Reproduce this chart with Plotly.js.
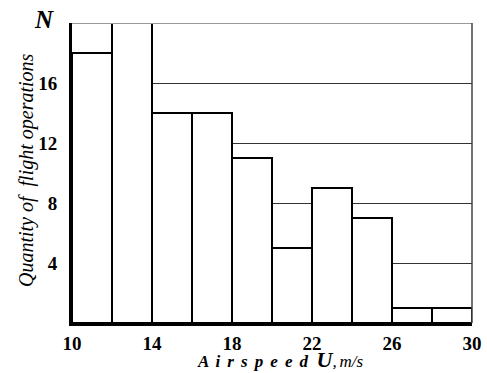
<!DOCTYPE html>
<html><head><meta charset="utf-8">
<script src="https://cdn.plot.ly/plotly-3.0.1.min.js"></script>
<style>html,body{margin:0;padding:0;background:#fff}#c{width:487px;height:373px}</style>
</head><body><div id="c"></div>
<script>
const binStarts = [10, 12, 14, 16, 18, 20, 22, 24, 26, 28];
const binWidth = 2;
const counts = [18, 20, 14, 14, 11, 5, 9, 7, 1, 1];
const xTicks = [10, 14, 18, 22, 26, 30];
const yTicks = [4, 8, 12, 16];

const serif = "Liberation Serif, Times New Roman, serif";
const trace = {
  type: 'bar',
  x: binStarts.map(s => s + binWidth / 2),
  y: counts,
  width: binStarts.map(() => binWidth),
  marker: {color: '#ffffff', line: {color: '#000000', width: 2}},
  hoverinfo: 'none'
};
const sp = ' &#8198;';
const xTitle = '<b><i>' + 'Airspeed'.split('').join(sp) + '&nbsp;&nbsp;' +
  '<span style="font-size:22px">U</span></i></b><i>,' + '&#8198;m/s</i>';
const layout = {
  width: 487, height: 373,
  margin: {l: 72, r: 15, t: 23, b: 50},
  paper_bgcolor: '#fff', plot_bgcolor: '#fff',
  showlegend: false,
  bargap: 0,
  xaxis: {
    range: [10, 30], tickvals: xTicks, ticktext: xTicks.map(v => '<b>' + v + '</b>'),
    showgrid: false, zeroline: false,
    showline: true, linecolor: '#000', linewidth: 3,
    ticks: '', ticklabelstandoff: 1,
    tickfont: {family: serif, size: 19, color: '#000'}
  },
  yaxis: {
    range: [0, 20], tickvals: yTicks, ticktext: yTicks.map(v => '<b>' + v + '</b>'),
    showgrid: true, gridcolor: '#333', gridwidth: 1,
    zeroline: false,
    showline: true, linecolor: '#000', linewidth: 3,
    ticks: '', ticklabelstandoff: 8,
    tickfont: {family: serif, size: 19, color: '#000'}
  },
  shapes: [
    {type: 'line', xref: 'paper', yref: 'y', x0: 0, x1: 1, y0: 20, y1: 20, line: {color: '#999', width: 2}, layer: 'above'},
    {type: 'line', xref: 'paper', yref: 'paper', x0: 1, x1: 1, y0: 0, y1: 1, line: {color: '#444', width: 1.5}, layer: 'above'}
  ],
  annotations: [
    {text: '<b><i>N</i></b>', xref: 'paper', yref: 'paper', x: -0.07, y: 1.013, xanchor: 'center', yanchor: 'middle',
     showarrow: false, font: {family: serif, size: 25, color: '#000'}},
    {text: '<i>Quantity of  flight operations</i>', xref: 'paper', yref: 'paper', x: -0.115, y: 0.51, xanchor: 'center', yanchor: 'middle',
     textangle: -90, showarrow: false, font: {family: serif, size: 20, color: '#000'}},
    {text: xTitle,
     xref: 'paper', yref: 'paper', x: 0.52, y: -0.122, xanchor: 'center', yanchor: 'middle',
     showarrow: false, font: {family: serif, size: 17, color: '#000'}}
  ]
};
Plotly.newPlot('c', [trace], layout, {staticPlot: true, displayModeBar: false});
</script></body></html>
